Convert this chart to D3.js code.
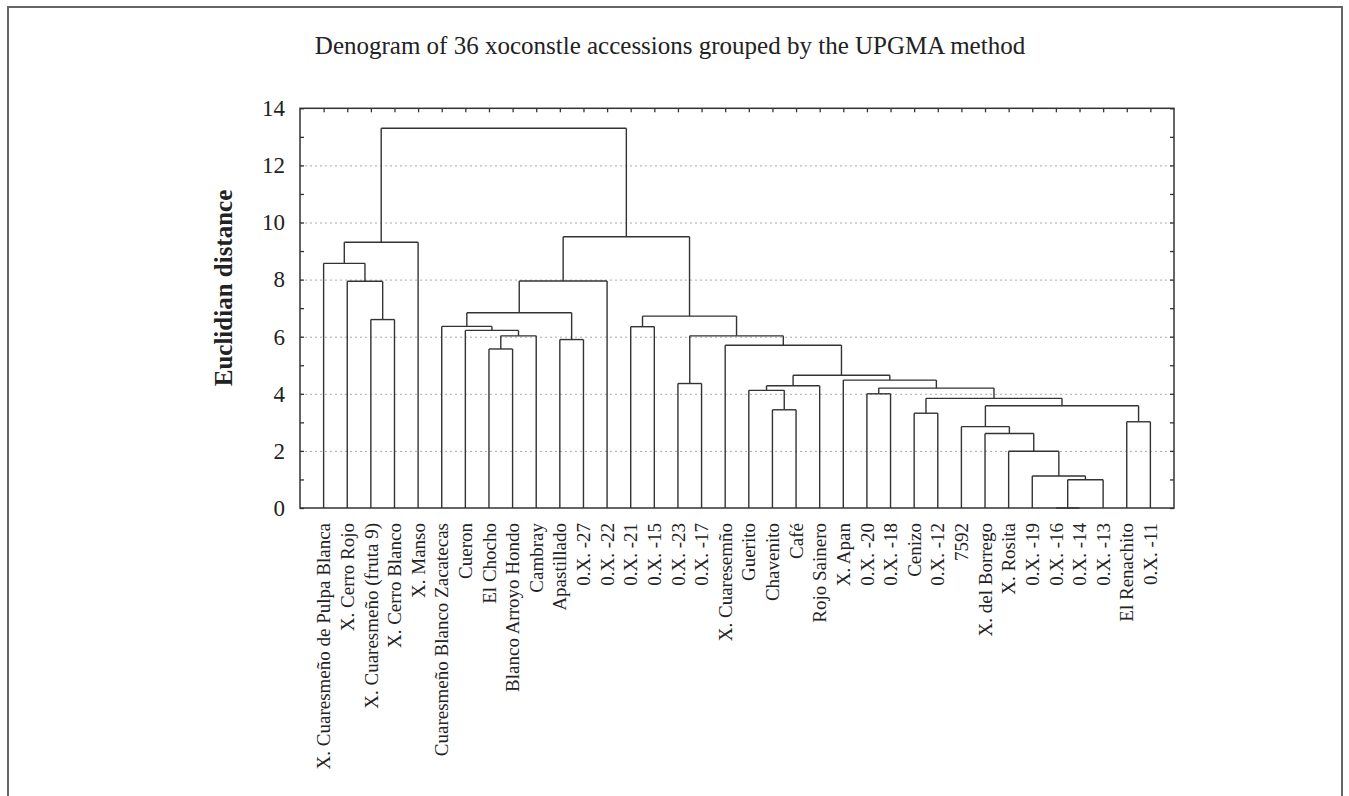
<!DOCTYPE html>
<html>
<head>
<meta charset="utf-8">
<script src="https://cdn.jsdelivr.net/npm/d3@7"></script>
<style>
  body { margin: 0; background: #fff; }
  text { font-family: "Liberation Serif", "DejaVu Serif", serif; fill: #222; }
</style>
</head>
<body>
<div id="chart"></div>
<script>
// accessions, in leaf order (left to right)
var leafLabels = [
    "X. Cuaresmeño de Pulpa Blanca", "X. Cerro Rojo", "X. Cuaresmeño (fruta 9)", "X. Cerro Blanco",
    "X. Manso", "Cuaresmeño Blanco Zacatecas", "Cueron", "El Chocho", "Blanco Arroyo Hondo",
    "Cambray", "Apastillado", "0.X. -27", "0.X. -22", "0.X. -21", "0.X. -15", "0.X. -23",
    "0.X. -17", "X. Cuaresemño", "Guerito", "Chavenito", "Café", "Rojo Sainero", "X. Apan",
    "0.X. -20", "0.X. -18", "Cenizo", "0.X. -12", "7592", "X. del Borrego", "X. Rosita",
    "0.X. -19", "0.X. -16", "0.X. -14", "0.X. -13", "El Renachito", "0.X. -11"
];

// UPGMA joins: [left id, right id, distance]. ids 0-35 are leaves, join k gets id 36 + k
var merges = [
    [2, 3, 6.6], [1, 36, 7.94], [0, 37, 8.57], [38, 4, 9.31],
    [7, 8, 5.57], [40, 9, 6.03], [6, 41, 6.22], [5, 42, 6.36], [10, 11, 5.9],
    [43, 44, 6.84], [45, 12, 7.95],
    [13, 14, 6.35], [15, 16, 4.36], [19, 20, 3.44], [18, 49, 4.12], [50, 21, 4.28],
    [23, 24, 4.0], [25, 26, 3.32], [31, 32, 0.0], [54, 33, 0.99], [30, 55, 1.12],
    [29, 56, 1.99], [28, 57, 2.61], [27, 58, 2.85], [34, 35, 3.02], [59, 60, 3.58],
    [53, 61, 3.84], [52, 62, 4.2], [22, 63, 4.48], [51, 64, 4.65], [17, 65, 5.7],
    [48, 66, 6.03], [47, 67, 6.72], [46, 68, 9.5], [39, 69, 13.3]
];

var yTicks = [0, 2, 4, 6, 8, 10, 12, 14];
var gridTicks = [2, 4, 6, 8, 10, 12];

var W = 1349, H = 796;
var plotL = 300, plotR = 1174, plotT = 108.3, plotB = 508;

var svg = d3.select("#chart").append("svg")
    .attr("width", W)
    .attr("height", H);

// outer frame of the figure (open at the bottom)
svg.append("rect")
    .attr("x", 8).attr("y", 7)
    .attr("width", 1334).attr("height", 900)
    .attr("fill", "none")
    .attr("stroke", "#666")
    .attr("stroke-width", 2);

svg.append("text")
    .attr("x", 670).attr("y", 54)
    .attr("text-anchor", "middle")
    .style("font-size", "25px")
    .text("Denogram of 36 xoconstle accessions grouped by the UPGMA method");

var x = d3.scaleLinear().domain([0, leafLabels.length + 1]).range([plotL, plotR]);
var y = d3.scaleLinear().domain([0, 14]).range([plotB, plotT]);

// dotted grid
svg.append("g")
    .attr("transform", "translate(" + plotL + ",0)")
    .call(d3.axisLeft(y).tickValues(gridTicks).tickSize(-(plotR - plotL)).tickFormat(""))
    .call(function(g) {
        g.select(".domain").remove();
        g.selectAll("line").attr("stroke", "#aaa").attr("stroke-dasharray", "2,3");
    });

// build the tree from the joins
var nodes = leafLabels.map(function(name, i) { return { name: name, height: 0, leaf: i }; });
merges.forEach(function(m) {
    nodes.push({ height: m[2], children: [nodes[m[0]], nodes[m[1]]] });
});
var root = d3.hierarchy(nodes[nodes.length - 1]);
root.eachAfter(function(d) {
    d.x = d.children ? d3.mean(d.children, function(c) { return c.x; }) : x(d.data.leaf + 1);
});

var links = [];
root.each(function(d) {
    if (d.parent) {
        links.push([[d.x, y(d.data.height)], [d.x, y(d.parent.data.height)]]);
    }
    if (d.children) {
        links.push([[d.children[0].x, y(d.data.height)], [d.children[1].x, y(d.data.height)]]);
    }
});

svg.append("g")
    .selectAll("path")
    .data(links)
    .enter()
    .append("path")
    .attr("d", d3.line())
    .attr("fill", "none")
    .attr("stroke", "#333")
    .attr("stroke-width", 1.4);

// y tick labels
svg.append("g")
    .attr("transform", "translate(" + plotL + ",0)")
    .call(d3.axisLeft(y).tickValues(yTicks).tickSize(0).tickPadding(15))
    .call(function(g) {
        g.select(".domain").remove();
        g.selectAll("text")
            .style("font-family", "'Liberation Serif', serif")
            .style("font-size", "23px")
            .attr("fill", "#222");
    });

// small inward ticks on left, right and top
svg.append("g")
    .attr("transform", "translate(" + plotL + ",0)")
    .call(d3.axisRight(y).ticks(14).tickSize(4).tickFormat(""))
    .call(function(g) { g.select(".domain").remove(); g.selectAll("line").attr("stroke", "#333").attr("stroke-width", 1.3); });
svg.append("g")
    .attr("transform", "translate(" + plotR + ",0)")
    .call(d3.axisLeft(y).ticks(14).tickSize(4).tickFormat(""))
    .call(function(g) { g.select(".domain").remove(); g.selectAll("line").attr("stroke", "#333").attr("stroke-width", 1.3); });
svg.append("g")
    .attr("transform", "translate(0," + plotT + ")")
    .call(d3.axisBottom(x).tickValues(d3.range(1, leafLabels.length + 1)).tickSize(4).tickFormat(""))
    .call(function(g) { g.select(".domain").remove(); g.selectAll("line").attr("stroke", "#333").attr("stroke-width", 1.3); });

// plot box
svg.append("rect")
    .attr("x", plotL).attr("y", plotT)
    .attr("width", plotR - plotL).attr("height", plotB - plotT)
    .attr("fill", "none")
    .attr("stroke", "#333")
    .attr("stroke-width", 1.5);

// leaf labels
svg.append("g")
    .selectAll("text")
    .data(root.leaves())
    .enter()
    .append("text")
    .attr("transform", function(d) { return "translate(" + d.x + "," + (plotB + 15) + ") rotate(-90)"; })
    .attr("dy", "0.35em")
    .attr("text-anchor", "end")
    .style("font-size", "19px")
    .text(function(d) { return d.data.name; });

// axis title
svg.append("text")
    .attr("transform", "translate(232,288) rotate(-90)")
    .attr("text-anchor", "middle")
    .style("font-size", "25px")
    .style("font-weight", "bold")
    .text("Euclidian distance");
</script>
</body>
</html>
